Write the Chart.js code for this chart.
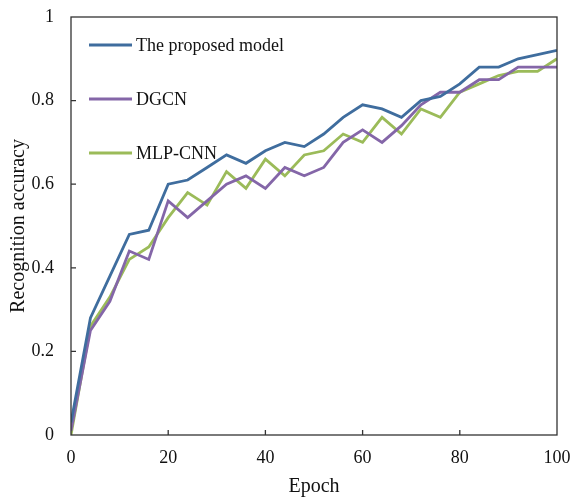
<!DOCTYPE html>
<html>
<head>
<meta charset="utf-8">
<script src="https://cdn.jsdelivr.net/npm/chart.js@4.4.1/dist/chart.umd.min.js"></script>
<style>
  html, body { margin: 0; padding: 0; background: #fff; }
  #wrap { width: 572px; height: 499px; }
</style>
</head>
<body>
<div id="wrap"><canvas id="accChart"></canvas></div>
<script>
const epochs = [0, 4, 8, 12, 16, 20, 24, 28, 32, 36, 40, 44, 48, 52, 56, 60, 64, 68, 72, 76, 80, 84, 88, 92, 96, 100];
const proposedModel = [0.03, 0.28, 0.38, 0.48, 0.49, 0.60, 0.61, 0.64, 0.67, 0.65, 0.68, 0.70, 0.69, 0.72, 0.76, 0.79, 0.78, 0.76, 0.80, 0.81, 0.84, 0.88, 0.88, 0.90, 0.91, 0.92];
const dgcn = [0.01, 0.25, 0.32, 0.44, 0.42, 0.56, 0.52, 0.56, 0.60, 0.62, 0.59, 0.64, 0.62, 0.64, 0.70, 0.73, 0.70, 0.74, 0.79, 0.82, 0.82, 0.85, 0.85, 0.88, 0.88, 0.88];
const mlpCnn = [0.00, 0.26, 0.33, 0.42, 0.45, 0.52, 0.58, 0.55, 0.63, 0.59, 0.66, 0.62, 0.67, 0.68, 0.72, 0.70, 0.76, 0.72, 0.78, 0.76, 0.82, 0.84, 0.86, 0.87, 0.87, 0.90];
const seriesNames = ['The proposed model', 'DGCN', 'MLP-CNN'];

(function() {
    const ctx = document.getElementById('accChart');
    const serif = "'Liberation Serif', 'Times New Roman', serif";
    const toPoints = (vals) => vals.map((v, i) => ({ x: epochs[i], y: v }));

    // box around plot + inward tick marks + legend in top-left corner
    const framePlugin = {
        id: 'frame',
        afterDatasetsDraw(chart) {
            const { ctx: c, chartArea: a, scales } = chart;
            c.save();
            c.strokeStyle = '#333';
            c.lineWidth = 1.3;
            c.strokeRect(a.left, a.top, a.right - a.left, a.bottom - a.top);
            c.beginPath();
            scales.x.ticks.forEach(t => {
                if (t.value <= scales.x.min || t.value >= scales.x.max) return;
                const px = scales.x.getPixelForValue(t.value);
                c.moveTo(px, a.bottom);
                c.lineTo(px, a.bottom - 5);
            });
            scales.y.ticks.forEach(t => {
                if (t.value <= scales.y.min || t.value >= scales.y.max) return;
                const py = scales.y.getPixelForValue(t.value);
                c.moveTo(a.left, py);
                c.lineTo(a.left + 5, py);
            });
            c.stroke();
            c.restore();
        },
        afterDraw(chart) {
            const c = chart.ctx;
            const a = chart.chartArea;
            c.save();
            c.font = '18px ' + serif;
            c.textBaseline = 'middle';
            c.fillStyle = '#111';
            chart.data.datasets.forEach((ds, i) => {
                const y = a.top + 28 + i * 54;
                c.strokeStyle = ds.borderColor;
                c.lineWidth = 2.8;
                c.beginPath();
                c.moveTo(a.left + 18, y);
                c.lineTo(a.left + 61, y);
                c.stroke();
                c.fillText(ds.label, a.left + 65, y + 1);
            });
            c.restore();
        }
    };

    const accChart = new Chart(ctx, {
        type: 'line',
        data: {
            datasets: [{
                label: seriesNames[0],
                data: toPoints(proposedModel),
                borderColor: '#3f6d9e'
            }, {
                label: seriesNames[1],
                data: toPoints(dgcn),
                borderColor: '#8466a8'
            }, {
                label: seriesNames[2],
                data: toPoints(mlpCnn),
                borderColor: '#9bbb59'
            }]
        },
        options: {
            responsive: true,
            maintainAspectRatio: false,
            animation: false,
            elements: {
                line: { borderWidth: 2.8, tension: 0, fill: false },
                point: { radius: 0, hoverRadius: 0 }
            },
            layout: { padding: { left: 0, right: 15, top: 17, bottom: 0 } },
            scales: {
                x: {
                    type: 'linear',
                    min: 0,
                    max: 100,
                    grid: { display: false, drawTicks: false },
                    border: { display: false },
                    ticks: { stepSize: 20, padding: 12, color: '#111', font: { family: serif, size: 18 } },
                    title: { display: true, text: 'Epoch', color: '#111', padding: 0, font: { family: serif, size: 20 } },
                    afterFit: (scale) => { scale.height = 64; scale.paddingLeft = 0; scale.paddingRight = 0; }
                },
                y: {
                    min: 0,
                    max: 1,
                    grid: { display: false, drawTicks: false },
                    border: { display: false },
                    ticks: {
                        stepSize: 0.2, padding: 17, color: '#111', font: { family: serif, size: 18 },
                        callback: (value) => String(Math.round(value * 10) / 10)
                    },
                    title: { display: true, text: 'Recognition accuracy', color: '#111', padding: { top: 7, bottom: 0 }, font: { family: serif, size: 20 } },
                    afterFit: (scale) => { scale.width = 71; scale.paddingTop = 0; scale.paddingBottom = 0; }
                }
            },
            plugins: {
                legend: { display: false },
                tooltip: { enabled: false }
            }
        },
        plugins: [framePlugin]
    });

    window.accChart = accChart;
})();
</script>
</body>
</html>
